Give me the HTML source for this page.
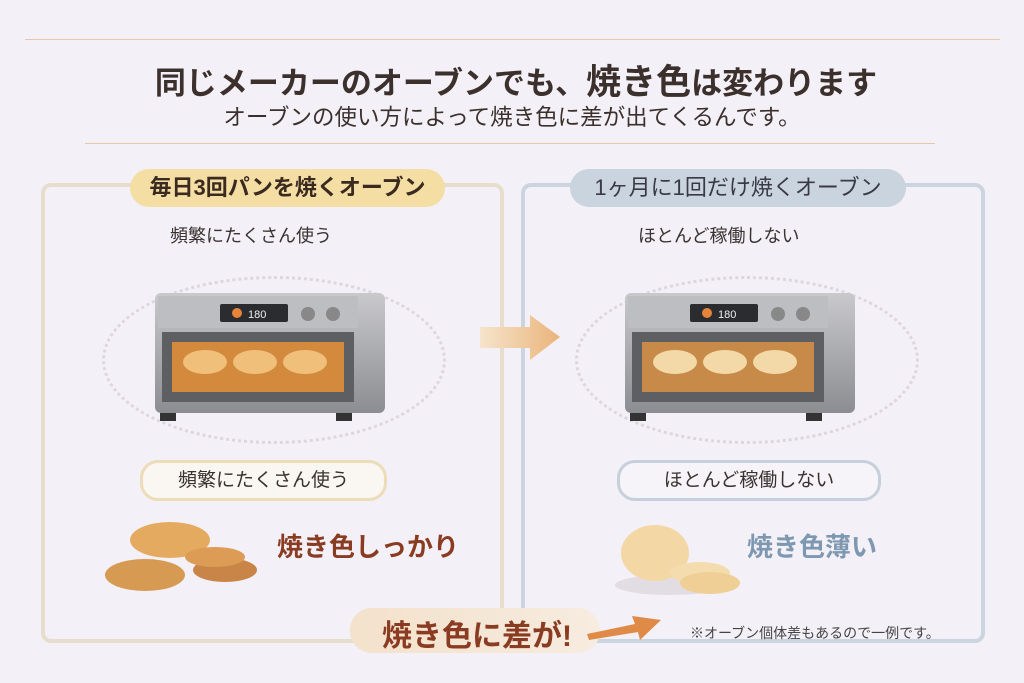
<!DOCTYPE html>
<html><head><meta charset="utf-8"><style>
body{margin:0;width:1024px;height:683px;overflow:hidden;background:#f3f0f7;font-family:"Liberation Sans","Noto Sans CJK JP",sans-serif;position:relative;color:#3a3230}
.a{position:absolute}
.t{white-space:nowrap}
</style></head><body>
<div class="a" style="left:25px;top:39px;width:975px;height:1px;background:#e2c9a8"></div>
<div class="a" style="left:85px;top:143px;width:850px;height:1px;background:#e2c9a8"></div>
<div class="a t" style="left:4px;width:1024px;top:54px;text-align:center;font-size:31px;font-weight:bold;color:#3b302c">同じメーカーのオーブンでも、<span style="font-size:35px">焼き色</span>は変わります</div>
<div class="a t" style="left:0;width:1024px;top:100px;text-align:center;font-size:22.5px;color:#3b302c">オーブンの使い方によって焼き色に差が出てくるんです。</div>

<div class="a" style="left:41px;top:183px;width:455px;height:452px;border:4px solid #e7ddcd;border-radius:10px"></div>
<div class="a" style="left:521px;top:183px;width:456px;height:452px;border:4px solid #cbd5df;border-radius:10px"></div>
<div class="a t" style="left:130px;top:169px;width:315px;height:38px;border-radius:19px;background:#f4dea4;text-align:center;line-height:38px;font-size:22px;font-weight:bold;color:#3b2a20">毎日3回パンを焼くオーブン</div>
<div class="a t" style="left:570px;top:169px;width:336px;height:38px;border-radius:19px;background:#c9d4df;text-align:center;line-height:38px;font-size:22px;color:#3a3a44">1ヶ月に1回だけ焼くオーブン</div>
<div class="a t" style="left:170px;top:222px;font-size:18px">頻繁にたくさん使う</div>
<div class="a t" style="left:638px;top:222px;font-size:18px">ほとんど稼働しない</div>

<div class="a" style="left:102px;top:276px;width:338px;height:162px;border:3px dotted #dcd6df;border-radius:50%"></div>
<div class="a" style="left:575px;top:276px;width:338px;height:162px;border:3px dotted #dcd6df;border-radius:50%"></div>

<svg class="a" style="left:150px;top:288px" width="245" height="135"><defs><linearGradient id="s" x1="0" y1="0" x2="0" y2="1"><stop offset="0" stop-color="#c9c9cc"/><stop offset="1" stop-color="#8c8d92"/></linearGradient></defs>
<rect x="5" y="5" width="230" height="120" rx="6" fill="url(#s)"/><rect x="8" y="8" width="200" height="32" fill="#bdbec2"/><rect x="70" y="16" width="68" height="18" rx="2" fill="#2b2c30"/><circle cx="87" cy="25" r="5" fill="#e8833a"/><text x="98" y="30" font-size="11" fill="#eee" font-family="Liberation Sans">180</text><circle cx="158" cy="26" r="7" fill="#888"/><circle cx="183" cy="26" r="7" fill="#888"/><rect x="12" y="44" width="192" height="70" fill="#5e5f63"/><rect x="22" y="54" width="172" height="50" fill="#d48a3c"/><ellipse cx="55" cy="74" rx="22" ry="12" fill="#f0c07a"/><ellipse cx="105" cy="74" rx="22" ry="12" fill="#f0c07a"/><ellipse cx="155" cy="74" rx="22" ry="12" fill="#f0c07a"/><rect x="10" y="125" width="16" height="8" fill="#333"/><rect x="186" y="125" width="16" height="8" fill="#333"/></svg>
<svg class="a" style="left:620px;top:288px" width="245" height="135">
<rect x="5" y="5" width="230" height="120" rx="6" fill="url(#s)"/><rect x="8" y="8" width="200" height="32" fill="#bdbec2"/><rect x="70" y="16" width="68" height="18" rx="2" fill="#2b2c30"/><circle cx="87" cy="25" r="5" fill="#e8833a"/><text x="98" y="30" font-size="11" fill="#eee" font-family="Liberation Sans">180</text><circle cx="158" cy="26" r="7" fill="#888"/><circle cx="183" cy="26" r="7" fill="#888"/><rect x="12" y="44" width="192" height="70" fill="#5e5f63"/><rect x="22" y="54" width="172" height="50" fill="#c88a48"/><ellipse cx="55" cy="74" rx="22" ry="12" fill="#f3d8a8"/><ellipse cx="105" cy="74" rx="22" ry="12" fill="#f3d8a8"/><ellipse cx="155" cy="74" rx="22" ry="12" fill="#f3d8a8"/><rect x="10" y="125" width="16" height="8" fill="#333"/><rect x="186" y="125" width="16" height="8" fill="#333"/></svg>

<svg class="a" style="left:475px;top:310px" width="90" height="55"><defs><linearGradient id="g"><stop offset="0" stop-color="#f6e4cc"/><stop offset="1" stop-color="#eab47a"/></linearGradient></defs><path d="M5 17 H55 V5 L85 27 L55 50 V38 H5 Z" fill="url(#g)"/></svg>

<div class="a t" style="left:140px;top:460px;width:241px;height:35px;border:3px solid #ecdcb8;border-radius:18px;background:#faf6f2;text-align:center;line-height:35px;font-size:19px">頻繁にたくさん使う</div>
<div class="a t" style="left:617px;top:460px;width:258px;height:35px;border:3px solid #c5d0db;border-radius:18px;background:#f6f4f8;text-align:center;line-height:35px;font-size:19px">ほとんど稼働しない</div>

<svg class="a" style="left:100px;top:515px" width="170" height="80"><ellipse cx="45" cy="60" rx="40" ry="16" fill="#d79a52"/><ellipse cx="70" cy="25" rx="40" ry="18" fill="#e4aa60"/><ellipse cx="125" cy="55" rx="32" ry="12" fill="#c98548"/><ellipse cx="115" cy="42" rx="30" ry="10" fill="#dc9c55"/></svg>
<div class="a t" style="left:277px;top:527px;font-size:26px;font-weight:bold;color:#8a3c22">焼き色しっかり</div>
<svg class="a" style="left:610px;top:515px" width="135" height="85"><ellipse cx="60" cy="70" rx="55" ry="10" fill="#e2dde3"/><ellipse cx="45" cy="38" rx="34" ry="28" fill="#f3d7a5"/><ellipse cx="90" cy="58" rx="30" ry="11" fill="#f5dcae"/><ellipse cx="100" cy="68" rx="30" ry="11" fill="#efcf95"/></svg>
<div class="a t" style="left:747px;top:527px;font-size:26px;font-weight:bold;color:#7d98b0">焼き色薄い</div>

<div class="a" style="left:350px;top:608px;width:250px;height:45px;border-radius:22px;background:linear-gradient(90deg,#f3e1cb,#f7ece0)"></div>
<div class="a t" style="left:382px;top:611px;font-size:30px;font-weight:bold;color:#8a3c22">焼き色に差が!</div>
<svg class="a" style="left:585px;top:608px" width="80" height="35"><path d="M2 26 L50 16 L47 8 L76 12 L55 32 L53 24 L4 32Z" fill="#e08a48"/></svg>
<div class="a t" style="left:690px;top:623px;font-size:14px;color:#444">※オーブン個体差もあるので一例です。</div>
</body></html>
